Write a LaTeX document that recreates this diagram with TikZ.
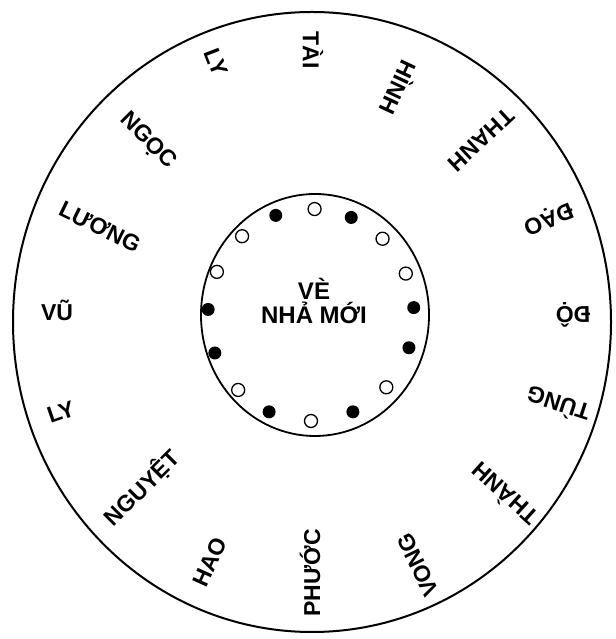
\documentclass[tikz,border=0pt]{standalone}
\usepackage{fontspec}
\setmainfont{Liberation Sans}
\usetikzlibrary{calc}

\tikzset{
  lbl/.style={font=\fontsize{23}{23}\selectfont\bfseries, inner sep=0pt},
  mid/.style={font=\fontsize{24}{24}\selectfont\bfseries, inner sep=0pt, anchor=base},
  hole/.style={draw, line width=1.3pt, fill=white},
  pin/.style={fill=black},
}

\begin{document}
\begin{tikzpicture}[x=1pt, y=1pt]
  \useasboundingbox (0,0) rectangle (615,639);
  \coordinate (O) at (312,317);
  \coordinate (I) at (315,324);
  \coordinate (D) at (311,324);

  \draw[line width=2pt] (O) ellipse [x radius=299, y radius=310];
  \draw[line width=1.8pt] (I) ellipse [x radius=114, y radius=121];

  \node[mid] (ve) at (314,339) {VÈ};
  \node[mid] (nha) at (314,315) {NHẢ MỚI};

  \foreach \a/\s in {88/hole, 67/pin, 46/hole, 23/hole, 4/pin, -18/pin, -43/hole, -66/pin,
                     -90/hole, -114/pin, -135/hole, -159/pin, 177/pin, 156/hole, 132/hole, 110/pin}
    \path[\s] ($(D)+(\a:103 and 106)$) circle (6.5);

  \node[lbl, rotate=-90] (tai) at (313,589) {TÀI};
  \node[lbl, rotate=-115] (hinh) at (400,551) {HÌNH};
  \node[lbl, rotate=-137] (thanh) at (481,499) {THANH};
  \node[lbl, rotate=202] (dao) at (548,421) {ĐẠO};
  \node[lbl, rotate=181] (do) at (573,324) {ĐỘ};
  \node[lbl, rotate=162] (tung) at (558,234) {TÙNG};
  \node[lbl, rotate=138] (thanhb) at (504,144) {THÀNH};
  \node[lbl, rotate=116] (vong) at (418,74) {VONG};
  \node[lbl, rotate=90] (phuoc) at (310,66) {PHƯỚC};
  \node[lbl, rotate=66] (hao) at (210,77) {HAO};
  \node[lbl, rotate=45] (nguyet) at (142,151) {NGUYỆT};
  \node[lbl, rotate=19] (lyb) at (61,227) {LY};
  \node[lbl] (vu) at (57,329) {VŨ};
  \node[lbl, rotate=-26] (luong) at (100,412) {LƯƠNG};
  \node[lbl, rotate=-45] (ngoc) at (148,498) {NGỌC};
  \node[lbl, rotate=-69] (lyt) at (216,577) {LY};
\end{tikzpicture}
\end{document}
